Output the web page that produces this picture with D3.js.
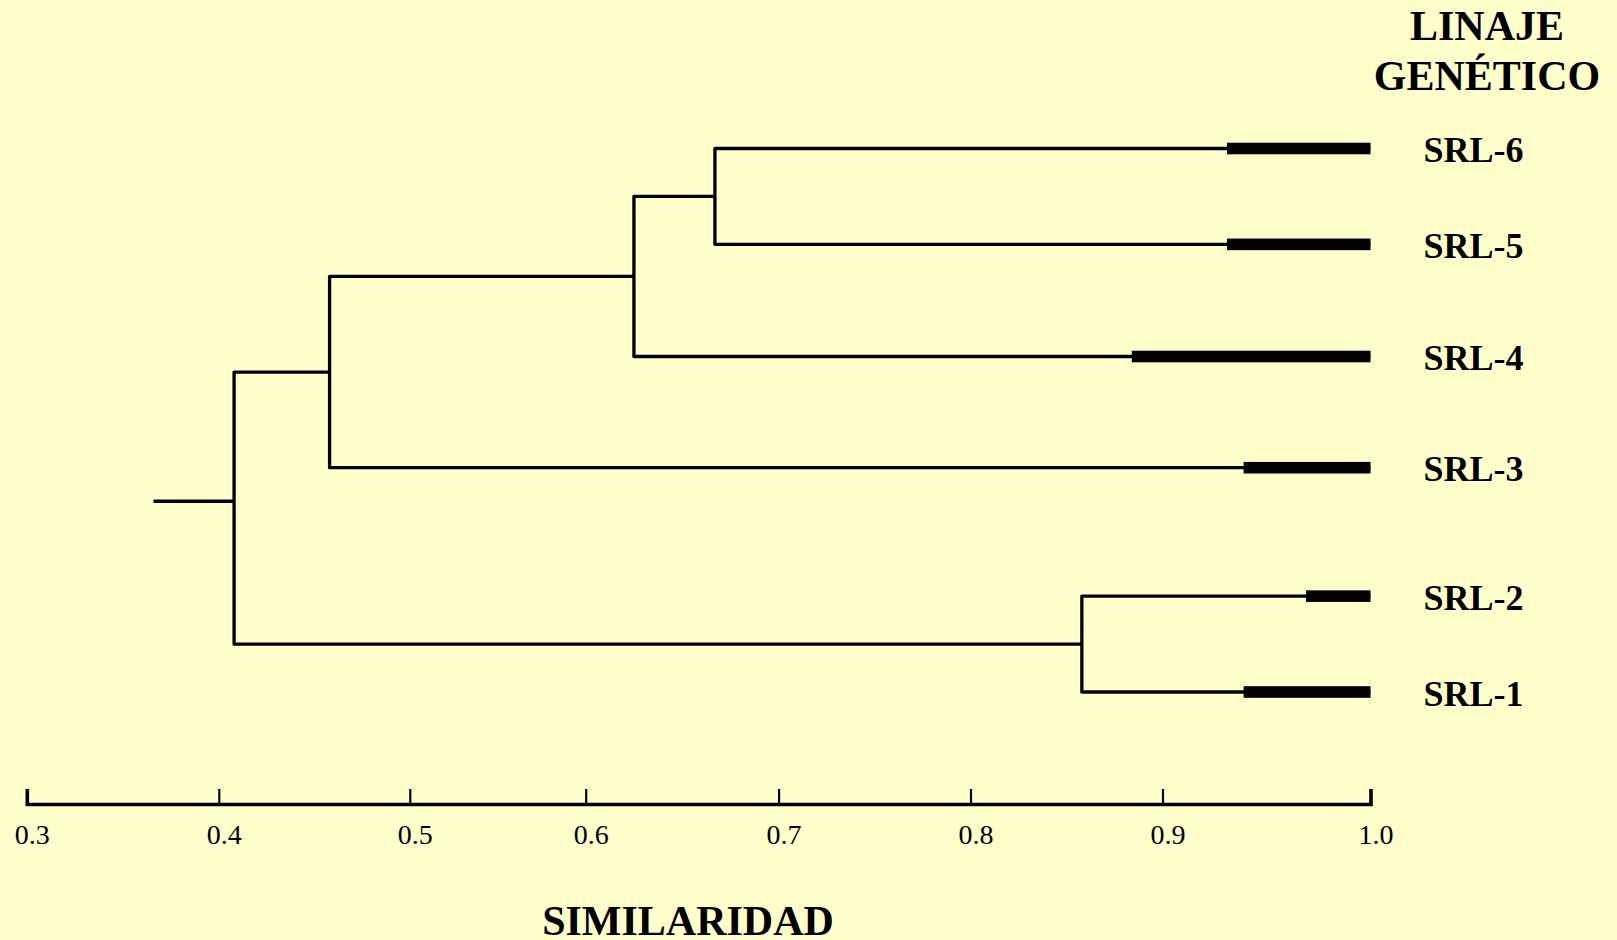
<!DOCTYPE html>
<html>
<head>
<meta charset="utf-8">
<script src="https://cdn.jsdelivr.net/npm/d3@7"></script>
<style>
  html, body { margin: 0; padding: 0; background: #FFFFCC; }
  svg { display: block; }
</style>
</head>
<body>
<script>
// ---------- data ----------
const leafNames    = ["SRL-6", "SRL-5", "SRL-4", "SRL-3", "SRL-2", "SRL-1"];
const leafRows     = [0, 1, 2.17, 3.33, 4.67, 5.67];          // vertical order (row units)
const leafBarStart = [0.931, 0.931, 0.884, 0.939, 0.969, 0.939]; // start of thick bar (similarity)
const leafEnd      = 1.0;
// merges: [childA, childB, similarity, name]
const mergeChildA  = ["SRL-6", "C",     "B",     "SRL-2", "A"];
const mergeChildB  = ["SRL-5", "SRL-4", "SRL-3", "SRL-1", "D"];
const mergeSim     = [0.667,   0.625,   0.458,   0.858,   0.408];
const mergeName    = ["C",     "B",     "A",     "D",     "root"];
const rootStubSim  = 0.366;
const rootStubRow  = 3.68;
const tickValues   = [0.3, 0.4, 0.5, 0.6, 0.7, 0.8, 0.9, 1.0];
const tickLabels   = ["0.3", "0.4", "0.5", "0.6", "0.7", "0.8", "0.9", "1.0"];
const axisTitle    = "SIMILARIDAD";
const legendTitle  = ["LINAJE", "GENÉTICO"];

// ---------- layout ----------
const W = 1617, H = 940;
const svg = d3.select("body").append("svg").attr("width", W).attr("height", H);
svg.append("rect").attr("width", W).attr("height", H).attr("fill", "#FFFFCC");

// axis in the original has uneven tick spacing -> polylinear scale
const x = d3.scaleLinear()
  .domain(tickValues)
  .range([26.8, 218.8, 409.8, 585.7, 778.6, 970.5, 1162.5, 1370.5]);
const y = d3.scaleLinear().domain([0, 5.67]).range([148.5, 692]);

// build node table
const nodes = {};
leafNames.forEach((n, i) => {
  nodes[n] = { name: n, sim: leafEnd, y: y(leafRows[i]), leaf: true, bar: leafBarStart[i] };
});
mergeName.forEach((n, i) => {
  const a = nodes[mergeChildA[i]], b = nodes[mergeChildB[i]];
  nodes[n] = { name: n, sim: mergeSim[i], y: (a.y + b.y) / 2, a, b };
});

const g = svg.append("g");
const LW = 3.3;

// elbows
mergeName.forEach(n => {
  const p = nodes[n];
  const path = d3.path();
  path.moveTo(x(p.a.sim), p.a.y);
  path.lineTo(x(p.sim), p.a.y);
  path.lineTo(x(p.sim), p.b.y);
  path.lineTo(x(p.b.sim), p.b.y);
  g.append("path").attr("d", path.toString())
    .attr("fill", "none").attr("stroke", "#000").attr("stroke-width", LW)
    .attr("stroke-linejoin", "round");
});

// root stub
g.append("line")
  .attr("x1", x(rootStubSim)).attr("x2", x(nodes.root.sim))
  .attr("y1", y(rootStubRow)).attr("y2", y(rootStubRow))
  .attr("stroke", "#000").attr("stroke-width", LW);

// thick bars + labels
leafNames.forEach(n => {
  const l = nodes[n];
  g.append("rect")
    .attr("x", x(l.bar)).attr("y", l.y - 5.8)
    .attr("width", x(leafEnd) - x(l.bar)).attr("height", 11.6)
    .attr("fill", "#000");
  g.append("text")
    .attr("x", x(leafEnd) + 53).attr("y", l.y + 13.5)
    .attr("font-family", "'Liberation Serif', 'Times New Roman', serif")
    .attr("font-weight", "bold").attr("font-size", 36)
    .attr("fill", "#000")
    .text(n);
});

// axis
const axisY = 804;
const axis = d3.axisBottom(x)
  .tickValues(tickValues)
  .tickFormat((d, i) => tickLabels[i])
  .tickSizeInner(-15).tickSizeOuter(-15).tickPadding(0);
const ag = svg.append("g").attr("transform", `translate(0,${axisY})`).call(axis);
ag.select(".domain").attr("stroke", "#000").attr("stroke-width", 3.6);
ag.selectAll(".tick line").attr("stroke", "#000").attr("stroke-width", 2.2);
ag.selectAll(".tick text")
  .attr("font-family", "'Liberation Serif', 'Times New Roman', serif")
  .attr("font-size", 28).attr("fill", "#000")
  .attr("dy", null).attr("y", 40).attr("dx", 5);

// axis title
svg.append("text")
  .attr("x", 688).attr("y", 935).attr("text-anchor", "middle")
  .attr("font-family", "'Liberation Serif', 'Times New Roman', serif")
  .attr("font-weight", "bold").attr("font-size", 42).attr("fill", "#000")
  .text(axisTitle);

// legend title
legendTitle.forEach((t, i) => {
  svg.append("text")
    .attr("x", 1487).attr("y", 39.5 + i * 50.5).attr("text-anchor", "middle")
    .attr("font-family", "'Liberation Serif', 'Times New Roman', serif")
    .attr("font-weight", "bold").attr("font-size", 42).attr("fill", "#000")
    .text(t);
});
</script>
</body>
</html>
